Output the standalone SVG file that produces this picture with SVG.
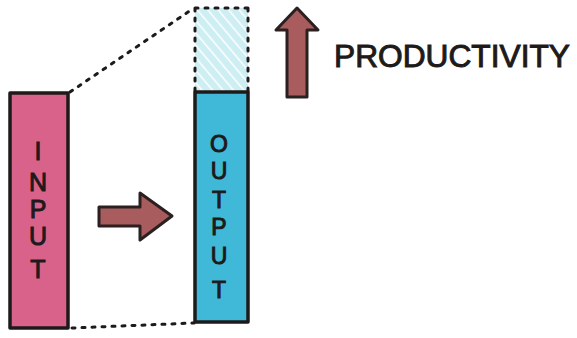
<svg xmlns="http://www.w3.org/2000/svg" width="577" height="338" viewBox="0 0 577 338">
<style>
.lbl{font-family:"Liberation Sans","DejaVu Sans",sans-serif;fill:#1e1a1a;stroke:#1e1a1a;stroke-width:1;text-anchor:middle}
.bar{stroke:#1e1a1a;stroke-width:3.5;stroke-linejoin:round}
.dots{fill:none;stroke:#1e1a1a;stroke-width:3;stroke-dasharray:3 7;stroke-linecap:round}
.arrow{fill:#a85c5e;stroke:#2a2020;stroke-width:3;stroke-linejoin:round}
</style>
<defs>
<pattern id="hatch" width="8" height="8" patternUnits="userSpaceOnUse" patternTransform="rotate(-40)">
<rect width="8" height="8" fill="#cdeef2"/>
<line x1="0" y1="0" x2="0" y2="8" stroke="#ffffff" stroke-width="3"/>
</pattern>
</defs>
<rect width="577" height="338" fill="#ffffff"/>
<g id="connectors">
<path class="dots" d="M70 92 L194 8"/>
<path class="dots" d="M72 328 L194 323"/>
</g>
<g id="input">
<rect class="bar" x="10" y="93" width="58" height="235" fill="#d9628a"/>
<text class="lbl" font-size="25"><tspan x="38" y="160">I</tspan><tspan x="38" y="191">N</tspan><tspan x="38" y="218">P</tspan><tspan x="38" y="245">U</tspan><tspan x="38" y="278">T</tspan></text>
</g>
<g id="transform-arrow">
<path class="arrow" d="M99 207 L140 207 L140 193 L172 216 L140 240 L140 226 L99 226 Z"/>
</g>
<g id="output-gain">
<rect x="195" y="8" width="53" height="84" fill="url(#hatch)"/>
<path class="dots" d="M195 8 L248 8 M195 8 L195 92 M248 8 L248 92"/>
</g>
<g id="output">
<rect class="bar" x="195" y="92" width="53" height="230" fill="#40b9d8"/>
<text class="lbl" font-size="23"><tspan x="219" y="152">O</tspan><tspan x="219" y="179">U</tspan><tspan x="219" y="208">T</tspan><tspan x="219" y="235">P</tspan><tspan x="219" y="264">U</tspan><tspan x="219" y="298">T</tspan></text>
</g>
<g id="productivity">
<path class="arrow" d="M287 97 L287 30 L276 30 L297 8 L318 30 L307 30 L307 97 Z"/>
<text class="lbl" x="452" y="67" font-size="32" textLength="236" lengthAdjust="spacingAndGlyphs">PRODUCTIVITY</text>
</g>
</svg>
